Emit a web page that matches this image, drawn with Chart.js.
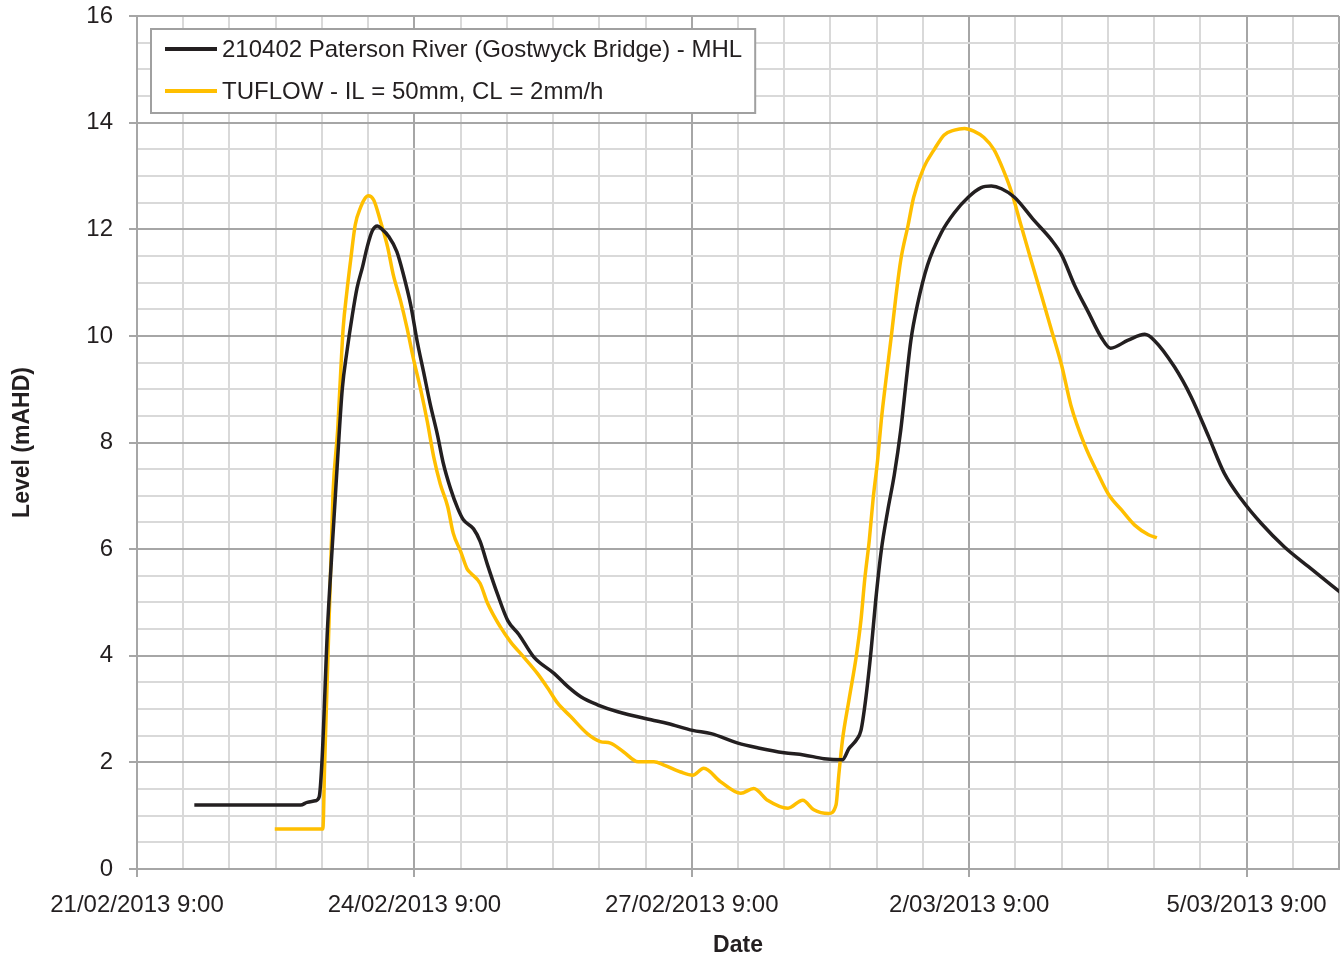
<!DOCTYPE html>
<html>
<head>
<meta charset="utf-8">
<title>Paterson River at Gostwyck Bridge - level</title>
<script src="https://cdn.jsdelivr.net/npm/chart.js@4.4.1/dist/chart.umd.min.js"></script>
<style>
  html, body { margin: 0; padding: 0; background: #fff; }
  #wrap { width: 1341px; height: 960px; }
</style>
</head>
<body>
<div id="wrap"><canvas id="levelChart" width="1341" height="960"></canvas></div>
<script>
// x values are days since 21/02/2013 9:00
const xTickLabels = ['21/02/2013 9:00', '24/02/2013 9:00', '27/02/2013 9:00', '2/03/2013 9:00', '5/03/2013 9:00'];

const mhlLabel = '210402 Paterson River (Gostwyck Bridge) - MHL';
const mhlDay = [
  0.62, 1.77, 1.84, 1.93, 1.97, 2.0, 2.06, 2.11, 2.17, 2.22, 2.27, 2.33, 2.38, 2.44, 2.49, 2.545,
  2.6, 2.65, 2.72, 2.81, 2.88, 2.96, 3.03, 3.1, 3.17, 3.25, 3.31, 3.39, 3.47, 3.53, 3.64, 3.71,
  3.79, 3.9, 4.01, 4.13, 4.29, 4.51, 4.66, 4.8, 4.98, 5.2, 5.56, 5.74, 6.01, 6.21, 6.5, 6.72,
  7.0, 7.21, 7.43, 7.63, 7.7, 7.78, 7.83, 7.88, 7.94, 7.99, 8.05, 8.12, 8.19, 8.26, 8.32, 8.37,
  8.44, 8.55, 8.7, 8.84, 8.99, 9.13, 9.24, 9.35, 9.49, 9.7, 9.89, 10.0, 10.14, 10.29, 10.43, 10.53,
  10.72, 10.9, 11.0, 11.22, 11.4, 11.59, 11.76, 11.95, 12.16, 12.41, 12.67, 13.03
];
const mhlLevel = [
  1.2, 1.2, 1.25, 1.28, 1.35, 2.0, 4.5, 6.0, 7.7, 9.0, 9.7, 10.4, 10.9, 11.3, 11.67, 11.97,
  12.06, 12.0, 11.87, 11.58, 11.16, 10.58, 9.9, 9.32, 8.73, 8.14, 7.63, 7.14, 6.76, 6.55, 6.38, 6.15,
  5.71, 5.15, 4.66, 4.4, 3.98, 3.67, 3.42, 3.23, 3.08, 2.95, 2.8, 2.73, 2.6, 2.54, 2.36, 2.27,
  2.18, 2.14, 2.07, 2.05, 2.26, 2.42, 2.6, 3.17, 4.11, 5.05, 5.98, 6.73, 7.39, 8.23, 9.17, 9.92,
  10.58, 11.33, 11.94, 12.31, 12.6, 12.78, 12.81, 12.76, 12.6, 12.17, 11.8, 11.52, 10.95, 10.44, 9.97, 9.77,
  9.92, 10.03, 9.92, 9.42, 8.86, 8.11, 7.42, 6.92, 6.48, 6.04, 5.67, 5.17
];

const tuflowLabel = 'TUFLOW - IL = 50mm, CL = 2mm/h';
const tuflowDay = [
  1.49, 2.01, 2.03, 2.06, 2.09, 2.12, 2.17, 2.2, 2.23, 2.27, 2.31, 2.36, 2.42, 2.47, 2.5, 2.56,
  2.63, 2.71, 2.77, 2.85, 2.92, 2.99, 3.07, 3.14, 3.21, 3.28, 3.36, 3.42, 3.5, 3.57, 3.61, 3.71,
  3.79, 3.93, 4.04, 4.18, 4.33, 4.44, 4.55, 4.69, 4.87, 5.01, 5.12, 5.26, 5.42, 5.59, 5.7, 5.88,
  6.01, 6.13, 6.31, 6.53, 6.67, 6.82, 7.04, 7.2, 7.32, 7.48, 7.56, 7.59, 7.63, 7.7, 7.78, 7.83,
  7.87, 7.92, 7.96, 8.01, 8.05, 8.1, 8.16, 8.21, 8.26, 8.34, 8.4, 8.51, 8.62, 8.73, 8.84, 8.95,
  9.05, 9.16, 9.27, 9.37, 9.46, 9.56, 9.67, 9.78, 9.89, 10.0, 10.1, 10.25, 10.4, 10.51, 10.65, 10.79,
  10.94, 11.03
];
const tuflowLevel = [
  0.75, 0.75, 2.0, 3.7, 5.37, 7.05, 8.23, 9.22, 10.15, 10.83, 11.41, 12.08, 12.42, 12.59, 12.63, 12.55,
  12.17, 11.67, 11.16, 10.66, 10.15, 9.57, 8.98, 8.39, 7.72, 7.22, 6.8, 6.3, 5.96, 5.63, 5.55, 5.36,
  4.99, 4.54, 4.26, 3.98, 3.67, 3.4, 3.11, 2.86, 2.54, 2.39, 2.36, 2.2, 2.01, 2.01, 1.95, 1.82,
  1.76, 1.89, 1.64, 1.42, 1.51, 1.29, 1.14, 1.29, 1.11, 1.04, 1.2, 1.76, 2.42, 3.17, 4.0, 4.67,
  5.42, 6.17, 6.92, 7.67, 8.42, 9.17, 10.02, 10.77, 11.42, 12.08, 12.6, 13.16, 13.49, 13.77, 13.86, 13.89,
  13.84, 13.72, 13.49, 13.11, 12.69, 12.08, 11.42, 10.77, 10.11, 9.45, 8.7, 7.95, 7.39, 7.02, 6.73, 6.45,
  6.27, 6.21
];

const FONT = "'Liberation Sans', Arial, sans-serif";
const TEXT = '#231f20';
const GRID_MAJOR = '#a6a6a6';
const GRID_MINOR = '#d9d9d9';
const X_MAX = 13;

function toPoints(xs, ys) {
  return xs.map((x, i) => ({ x, y: ys[i] }));
}

const isMajorX = (v) => Math.abs(v % 3) < 1e-6 || Math.abs(v - X_MAX) < 1e-6;
const isMajorY = (v) => Math.abs(v % 2) < 1e-6;

// legend box drawn inside the plot, top-left, like the spreadsheet original
const boxLegend = {
  id: 'boxLegend',
  afterDraw(chart) {
    const { ctx, chartArea } = chart;
    const sets = chart.data.datasets;
    ctx.save();
    ctx.font = '24px ' + FONT;
    const textW = Math.max(...sets.map((d) => ctx.measureText(d.label).width));
    const left = chartArea.left + 14;
    const top = chartArea.top + 13;
    const w = 71 + textW + 13;
    const h = 84;
    ctx.fillStyle = '#fff';
    ctx.fillRect(left, top, w, h);
    ctx.strokeStyle = '#a0a0a0';
    ctx.lineWidth = 2;
    ctx.strokeRect(left, top, w, h);
    sets.forEach((d, i) => {
      const y = top + 20 + i * 42;
      ctx.strokeStyle = d.borderColor;
      ctx.lineWidth = 4;
      ctx.beginPath();
      ctx.moveTo(left + 14, y);
      ctx.lineTo(left + 66, y);
      ctx.stroke();
      ctx.fillStyle = TEXT;
      ctx.textBaseline = 'middle';
      ctx.textAlign = 'left';
      ctx.fillText(d.label, left + 71, y + 1);
    });
    ctx.restore();
  },
};

new Chart(document.getElementById('levelChart'), {
  type: 'line',
  data: {
    datasets: [
      {
        label: mhlLabel,
        data: toPoints(mhlDay, mhlLevel),
        borderColor: '#231f20',
        borderWidth: 3.5,
        pointRadius: 0,
        cubicInterpolationMode: 'monotone',
        fill: false,
      },
      {
        label: tuflowLabel,
        data: toPoints(tuflowDay, tuflowLevel),
        borderColor: '#ffbf00',
        borderWidth: 3.5,
        pointRadius: 0,
        cubicInterpolationMode: 'monotone',
        fill: false,
      },
    ],
  },
  options: {
    responsive: false,
    animation: false,
    layout: { padding: { top: 16, right: 2, left: 0, bottom: 0 } },
    plugins: {
      legend: { display: false },
      tooltip: { enabled: false },
    },
    scales: {
      x: {
        type: 'linear',
        min: 0,
        max: X_MAX,
        afterFit: (s) => { s.height = 91; s.paddingRight = 0; s.paddingLeft = 0; },
        ticks: {
          stepSize: 0.5,
          autoSkip: false,
          maxRotation: 0,
          padding: 14,
          color: TEXT,
          font: { family: FONT, size: 24 },
          callback: (v) => (Math.abs(v % 3) < 1e-6 ? xTickLabels[Math.round(v / 3)] : ''),
        },
        grid: {
          lineWidth: 2,
          tickLength: 8,
          color: (c) => (isMajorX(c.tick.value) ? GRID_MAJOR : GRID_MINOR),
          tickColor: (c) => (Math.abs(c.tick.value % 3) < 1e-6 ? GRID_MAJOR : 'rgba(0,0,0,0)'),
        },
        border: { color: GRID_MAJOR, width: 2 },
        title: {
          display: true,
          text: 'Date',
          color: TEXT,
          font: { family: FONT, size: 23, weight: 'bold' },
          padding: { bottom: 1 },
        },
      },
      y: {
        min: 0,
        max: 16,
        afterFit: (s) => { s.width = 137; s.paddingTop = 0; s.paddingBottom = 0; },
        ticks: {
          stepSize: 0.5,
          autoSkip: false,
          padding: 16,
          color: TEXT,
          font: { family: FONT, size: 24 },
          callback: (v) => (isMajorY(v) ? String(v) : ''),
        },
        grid: {
          lineWidth: 2,
          tickLength: 8,
          color: (c) => (isMajorY(c.tick.value) ? GRID_MAJOR : GRID_MINOR),
          tickColor: (c) => (isMajorY(c.tick.value) ? GRID_MAJOR : 'rgba(0,0,0,0)'),
        },
        border: { color: GRID_MAJOR, width: 2 },
        title: {
          display: true,
          text: 'Level (mAHD)',
          color: TEXT,
          font: { family: FONT, size: 23, weight: 'bold' },
          padding: { top: 9 },
        },
      },
    },
  },
  plugins: [boxLegend],
});
</script>
</body>
</html>
